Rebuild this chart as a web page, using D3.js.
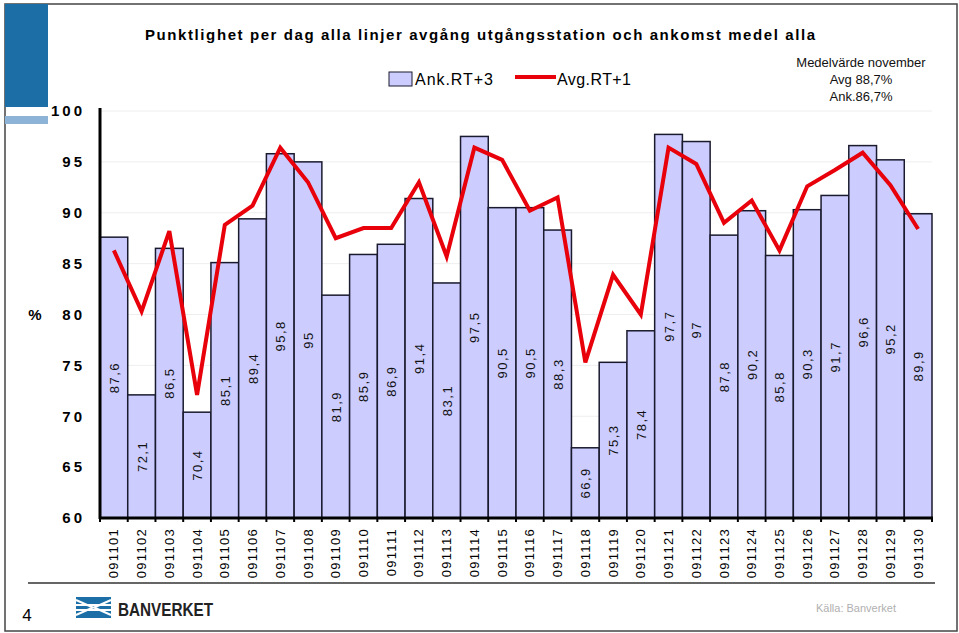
<!DOCTYPE html>
<html><head><meta charset="utf-8">
<script src="https://cdn.jsdelivr.net/npm/d3@7"></script>
<style>body{margin:0;background:#fff}svg{display:block;font-family:"Liberation Sans",Arial,sans-serif}</style>
</head><body><svg id="c" width="959" height="633"></svg>
<script>
const categories = ["091101","091102","091103","091104","091105","091106","091107","091108","091109","091110","091111","091112","091113","091114","091115","091116","091117","091118","091119","091120","091121","091122","091123","091124","091125","091126","091127","091128","091129","091130"];
const ankValues = [87.6,72.1,86.5,70.4,85.1,89.4,95.8,95,81.9,85.9,86.9,91.4,83.1,97.5,90.5,90.5,88.3,66.9,75.3,78.4,97.7,97,87.8,90.2,85.8,90.3,91.7,96.6,95.2,89.9];
const avgValues = [86.3,80.3,88.2,72.1,88.8,90.7,96.4,93.0,87.5,88.5,88.5,93.0,85.7,96.4,95.2,90.2,91.5,75.3,83.9,80.0,96.4,94.8,89.0,91.2,86.3,92.6,94.2,95.9,92.7,88.4];
const yTicks = [60,65,70,75,80,85,90,95,100];
const titleText = "Punktlighet per dag alla linjer avgång utgångsstation och ankomst medel alla";
const seriesNames = ["Ank.RT+3","Avg.RT+1"];
const noteLines = ["Medelvärde november","Avg 88,7%","Ank.86,7%"];

const svg = d3.select("#c");
// frame & decoration
svg.append("rect").attr("x",5).attr("y",4).attr("width",952).attr("height",627).attr("fill","none").attr("stroke","#444").attr("stroke-width",1.5);
svg.append("rect").attr("x",5).attr("y",4).attr("width",43).attr("height",103).attr("fill","#1b6fa6");
svg.append("rect").attr("x",5).attr("y",116).attr("width",43).attr("height",8).attr("fill","#8db4d6");
svg.append("line").attr("x1",28).attr("x2",935).attr("y1",583).attr("y2",583).attr("stroke","#333").attr("stroke-width",1.5);

const x = d3.scaleBand().domain(categories).range([100,932]).padding(0);
const y = d3.scaleLinear().domain([60,100]).range([518,111]);

// grid
svg.append("g").selectAll("line").data(yTicks.filter(t=>t>60)).join("line")
  .attr("x1",100).attr("x2",932).attr("y1",d=>y(d)).attr("y2",d=>y(d))
  .attr("stroke","#eeeeee").attr("stroke-width",1);

// bars
svg.append("g").selectAll("rect").data(ankValues).join("rect")
  .attr("x",(d,i)=>x(categories[i])).attr("width",x.bandwidth())
  .attr("y",d=>y(d)).attr("height",d=>y(60)-y(d))
  .attr("fill","#ccccff").attr("stroke","#1a1a2e").attr("stroke-width",1.5);

// bar labels
svg.append("g").selectAll("text").data(ankValues).join("text")
  .attr("transform",(d,i)=>`translate(${x(categories[i])+x.bandwidth()/2+5},${(y(d)+y(60))/2}) rotate(-90)`)
  .attr("text-anchor","middle").attr("font-size",13).attr("letter-spacing",1.5).attr("fill","#111")
  .text(d=>String(d).replace(".",","));

// line
const line = d3.line().x((d,i)=>x(categories[i])+x.bandwidth()/2).y(d=>y(d));
svg.append("path").datum(avgValues).attr("d",line).attr("fill","none")
  .attr("stroke","#e8000b").attr("stroke-width",4).attr("stroke-linejoin","miter");

// axes
const yAxis = d3.axisLeft(y).tickValues(yTicks).tickSize(0).tickPadding(15);
const gy = svg.append("g").attr("transform","translate(100,0)").call(yAxis);
gy.select(".domain").attr("stroke","#000").attr("stroke-width",3).attr("d","M0,108V519");
gy.selectAll("text").attr("font-size",15).attr("font-weight","bold").attr("letter-spacing",3).attr("fill","#000").attr("font-family","Liberation Sans, Arial, sans-serif");

const xAxis = d3.axisBottom(x).tickSize(4).tickSizeOuter(0);
const gx = svg.append("g").attr("transform","translate(0,518)").call(xAxis);
gx.select(".domain").attr("stroke","#000").attr("stroke-width",3).attr("d","M99,0H933");
gx.selectAll(".tick line").attr("stroke","#000").attr("stroke-width",2).attr("x1",-x.bandwidth()/2).attr("x2",-x.bandwidth()/2);
gx.selectAll(".tick").each(function(){});
// extra final tick
svg.append("line").attr("x1",932).attr("x2",932).attr("y1",518).attr("y2",522).attr("stroke","#000").attr("stroke-width",2);
gx.selectAll("text").attr("font-size",13).attr("letter-spacing",1.3).attr("fill","#000")
  .attr("font-family","Liberation Sans, Arial, sans-serif")
  .attr("text-anchor","end").attr("transform","rotate(-90)").attr("x",-10).attr("y",0).attr("dy","0.35em");

svg.append("text").attr("x",35).attr("y",320).attr("text-anchor","middle").attr("font-size",15).attr("font-weight","bold").text("%");

// title
svg.append("text").attr("x",145).attr("y",40).attr("font-size",15).attr("font-weight","bold")
  .attr("textLength",670).attr("lengthAdjust","spacing").text(titleText);

// legend
svg.append("rect").attr("x",389).attr("y",72).attr("width",23).attr("height",14).attr("fill","#ccccff").attr("stroke","#1a1a2e").attr("stroke-width",1);
svg.append("text").attr("x",415).attr("y",85).attr("font-size",16).attr("textLength",78).attr("lengthAdjust","spacing").text(seriesNames[0]);
svg.append("line").attr("x1",515).attr("x2",556).attr("y1",77).attr("y2",77).attr("stroke","#e8000b").attr("stroke-width",4);
svg.append("text").attr("x",557).attr("y",85).attr("font-size",16).attr("textLength",74).attr("lengthAdjust","spacing").text(seriesNames[1]);

svg.append("g").selectAll("text").data(noteLines).join("text")
  .attr("x",861).attr("y",(d,i)=>67+i*17).attr("text-anchor","middle").attr("font-size",13).attr("fill","#111").text(d=>d);

// footer
svg.append("text").attr("x",27).attr("y",621).attr("text-anchor","middle").attr("font-size",17).text("4");
const logo = svg.append("g").attr("transform","translate(76,597)");
logo.append("rect").attr("width",35).attr("height",21).attr("fill","#1b6fa6");
logo.append("path").attr("d","M0,3 L17,10.5 L0,18 M35,3 L18,10.5 L35,18 M0,8 L35,8 M0,13 L35,13").attr("stroke","#fff").attr("stroke-width",2).attr("fill","none");
svg.append("text").attr("x",118).attr("y",616).attr("font-size",19).attr("font-weight","bold").attr("fill","#222").attr("font-family","Liberation Sans Narrow, Liberation Sans, Arial").attr("textLength",95).attr("lengthAdjust","spacingAndGlyphs").text("BANVERKET");
svg.append("text").attr("x",856).attr("y",612).attr("text-anchor","middle").attr("font-size",11).attr("fill","#b0b0b0").text("Källa: Banverket");
</script></body></html>
